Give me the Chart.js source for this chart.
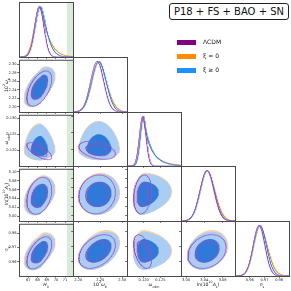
<!DOCTYPE html>
<html><head><meta charset="utf-8">
<script src="https://cdn.jsdelivr.net/npm/chart.js@4.4.1/dist/chart.umd.min.js"></script>
<style>
html,body{margin:0;padding:0;}
body{width:291px;height:291px;background:#fff;position:relative;overflow:hidden;font-family:'DejaVu Sans',sans-serif;}
canvas{position:absolute;}
.lbl{position:absolute;font-size:4.6px;white-space:nowrap;color:#111;line-height:1;}
.lbl sub,.lbl sup{font-size:70%;line-height:0;}
.leg{position:absolute;font-size:6px;white-space:nowrap;color:#111;line-height:1;}
.patch{position:absolute;width:19px;height:5.5px;}
#title{position:absolute;left:169px;top:3px;width:118px;height:15px;border:0.8px solid #222;border-radius:3px;font-size:10px;line-height:15px;text-align:center;color:#111;}
</style></head><body>
<div id="title">P18 + FS + BAO + SN</div>
<script>
// ---- axes ----
const paramLabelsHtml = ['<i>H</i><sub>0</sub>', '10<sup>2</sup><i>ω</i><sub>b</sub>', '<i>ω</i><sub>cdm</sub>', 'ln(10<sup>10</sup><i>A</i><sub>s</sub>)', '<i>n</i><sub>s</sub>'];
const paramRanges = [[66.0, 71.85], [2.188, 2.311], [0.1150, 0.1312], [2.989, 3.107], [0.9500, 0.9867]];
const xTickValues = [[67, 68, 69, 70, 71], [2.20, 2.25, 2.30], [0.120, 0.125], [3.00, 3.04, 3.08], [0.96, 0.97, 0.98]];
const yTickValues = [[], [2.20, 2.22, 2.24, 2.26, 2.28, 2.30], [0.120, 0.125, 0.130], [3.00, 3.02, 3.04, 3.06, 3.08, 3.10], [0.96, 0.97, 0.98]];
const tickDecimals = [0, 2, 3, 2, 2];
const h0Band = [71.19, 74.5];

// ---- models ----
const modelNames = ['ΛCDM', 'ξ = 0', 'ξ ≥ 0'];
const legendColors = ['#800080', '#ff8c00', '#1e90ff'];

// posterior summaries (params: H0, 100wb, wcdm, lnAs, ns)
const lcdmMode   = [68.20, 2.243, 0.1197, 3.046, 0.9663];
const lcdmSd1dLo = [0.50, 0.0150, 0.0010, 0.0150, 0.0040];
const lcdmSd1dHi = [0.50, 0.0150, 0.0010, 0.0150, 0.0040];
const lcdmTail1d = [1.0, 1.0, 1.0, 1.0, 1.0];
const lcdmSd2dLo = [0.55, 0.0170, 0.0011, 0.0170, 0.0046];
const lcdmSd2dHi = [0.55, 0.0170, 0.0011, 0.0170, 0.0046];
const lcdmTail2d = [1.0, 1.0, 1.0, 1.0, 1.0];

const xi0Mode   = [68.25, 2.246, 0.1199, 3.046, 0.9670];
const xi0Sd1dLo = [0.58, 0.0160, 0.00095, 0.0155, 0.0043];
const xi0Sd1dHi = [0.58, 0.0175, 0.0010, 0.0165, 0.0048];
const xi0Tail1d = [1.6, 1.1, 2.3, 1.05, 1.1];
const xi0Sd2dLo = [0.72, 0.0190, 0.0013, 0.0180, 0.0052];
const xi0Sd2dHi = [0.47, 0.0190, 0.0027, 0.0180, 0.0052];
const xi0Tail2d = [1.45, 1.07, 1.30, 1.06, 1.08];

const xiPosMode   = [68.35, 2.247, 0.1200, 3.046, 0.9668];
const xiPosSd1dLo = [0.58, 0.0160, 0.00095, 0.0155, 0.0043];
const xiPosSd1dHi = [0.55, 0.0165, 0.0010, 0.0155, 0.0045];
const xiPosTail1d = [1.35, 1.0, 2.2, 1.0, 1.0];
const xiPosSd2dLo = [0.72, 0.0190, 0.0013, 0.0180, 0.0052];
const xiPosSd2dHi = [0.46, 0.0190, 0.0027, 0.0180, 0.0052];
const xiPosTail2d = [1.35, 1.0, 1.25, 1.0, 1.0];

// correlations, pairs (0,1),(0,2),(0,3),(0,4),(1,2),(1,3),(1,4),(2,3),(2,4),(3,4)
const lcdmCorr  = [0.55, -0.70, 0.30, 0.55, -0.40, 0.10, 0.40, 0.20, -0.45, 0.25];
const xi0Corr   = [0.55, 0.00, 0.35, 0.50, 0.00, 0.10, 0.40, 0.15, 0.00, 0.25];
const xiPosCorr = [0.55, 0.00, 0.35, 0.50, 0.00, 0.10, 0.40, 0.15, 0.00, 0.25];

const contourLevels = [2.448, 1.515]; // 95%, 68%

const models = [
  {mode: xi0Mode, lo: xi0Sd1dLo, hi: xi0Sd1dHi, tail: xi0Tail1d, lo2: xi0Sd2dLo, hi2: xi0Sd2dHi, tail2: xi0Tail2d, corr: xi0Corr, fills: ['#fcd0a4', '#f7a75a'], line: '#ff8c00'},
  {mode: xiPosMode, lo: xiPosSd1dLo, hi: xiPosSd1dHi, tail: xiPosTail1d, lo2: xiPosSd2dLo, hi2: xiPosSd2dHi, tail2: xiPosTail2d, corr: xiPosCorr, fills: ['#a9cdf3', '#2f7ad8'], line: '#1e90ff'},
  {mode: lcdmMode, lo: lcdmSd1dLo, hi: lcdmSd1dHi, tail: lcdmTail1d, lo2: lcdmSd2dLo, hi2: lcdmSd2dHi, tail2: lcdmTail2d, corr: lcdmCorr, fills: null, line: '#a04ec6'}
];

const N = 5;
const colX = i => Math.round(19 + i * 54);
const rowY = i => Math.round(2 + i * 54.8);
function pairIndex(i, j) { let k = 0; for (let a = 0; a < N; a++) for (let b = a + 1; b < N; b++) { if (a === i && b === j) return k; k++; } return -1; }

function curve1D(m, p) {
  const [a, b] = paramRanges[p]; const pts = [];
  for (let k = 0; k <= 160; k++) {
    const x = a + (b - a) * k / 160;
    const d = x - m.mode[p];
    const z = d > 0 ? Math.pow(d / m.hi[p], 2 / m.tail[p]) : (d / m.lo[p]) ** 2;
    pts.push({x, y: Math.exp(-0.5 * z)});
  }
  return pts;
}
function warp(m, p, z) { return m.mode[p] + (z > 0 ? m.hi2[p] * Math.pow(z, m.tail2[p]) : m.lo2[p] * z); }
function contour2D(m, px, py, r) {
  const rho = m.corr[pairIndex(Math.min(px, py), Math.max(px, py))];
  const pts = [];
  for (let k = 0; k <= 160; k++) {
    const t = 2 * Math.PI * k / 160;
    const u = r * Math.cos(t), v = r * Math.sin(t);
    const z1 = u, z2 = rho * u + Math.sqrt(1 - rho * rho) * v;
    pts.push({x: warp(m, px, z1), y: warp(m, py, z2)});
  }
  return pts;
}

const framePlugin = {id: 'frame', afterDatasetsDraw(chart) {
  const {ctx, chartArea: a} = chart; ctx.save(); ctx.strokeStyle = '#4a4a4a'; ctx.lineWidth = 1;
  ctx.strokeRect(a.left + 0.5, a.top + 0.5, a.right - a.left, a.bottom - a.top); ctx.restore();
}};

function makePanel(r, c) {
  const w = colX(c + 1) - colX(c), h = rowY(r + 1) - rowY(r);
  const diag = r === c;
  const lm = diag ? 0 : (c === 0 ? 19 : 3);
  const bm = r === N - 1 ? 15 : 3;
  const W = lm + w + 1, H = h + bm;
  const cv = document.createElement('canvas');
  cv.width = W; cv.height = H;
  cv.style.left = (colX(c) - lm) + 'px'; cv.style.top = rowY(r) + 'px';
  cv.style.width = W + 'px'; cv.style.height = H + 'px';
  document.body.appendChild(cv);

  const yr = diag ? [0, 1.09] : paramRanges[r];
  const datasets = [];
  const add = (d) => { d.order = -datasets.length; d.pointRadius = 0; d.showLine = true; d.tension = 0; datasets.push(d); };
  if (c === 0) {
    add({data: [{x: h0Band[0], y: yr[0]}, {x: h0Band[1], y: yr[0]}, {x: h0Band[1], y: yr[1]}, {x: h0Band[0], y: yr[1]}, {x: h0Band[0], y: yr[0]}],
         fill: 'shape', backgroundColor: 'rgba(70,150,70,0.2)', borderWidth: 0});
  }
  if (diag) {
    models.forEach(m => add({data: curve1D(m, c), fill: false, borderColor: m.line, borderWidth: 0.9}));
  } else {
    models.forEach(m => {
      contourLevels.forEach((lev, li) => {
        const pts = contour2D(m, c, r, lev);
        if (m.fills) add({data: pts, fill: 'shape', backgroundColor: m.fills[li], borderWidth: 0});
        else add({data: pts, fill: false, borderColor: m.line, borderWidth: 0.8});
      });
    });
  }
  const tickFont = {size: 3.6, family: 'DejaVu Sans'};
  const grid = {display: true, drawOnChartArea: false, drawTicks: true, tickLength: 1.8, color: '#444', lineWidth: 0.8};
  new Chart(cv, {
    type: 'scatter',
    data: {datasets},
    options: {
      responsive: false, animation: false, devicePixelRatio: 1,
      layout: {padding: {left: 0, right: 1, top: 0, bottom: 0}, autoPadding: false},
      plugins: {legend: {display: false}, tooltip: {enabled: false}},
      scales: {
        x: {type: 'linear', position: 'bottom', min: paramRanges[c][0], max: paramRanges[c][1],
            afterFit: a => { a.height = bm; },
            afterBuildTicks: a => { a.ticks = xTickValues[c].map(v => ({value: v})); },
            ticks: {display: r === N - 1, font: tickFont, color: '#222', padding: 0, maxRotation: 0, minRotation: 0, autoSkip: false,
                    callback: v => Number(v).toFixed(tickDecimals[c])},
            grid, border: {display: false}},
        y: {type: 'linear', position: 'left', display: !diag, min: yr[0], max: yr[1],
            afterFit: a => { a.width = lm; },
            afterBuildTicks: a => { a.ticks = (diag ? [] : yTickValues[r]).map(v => ({value: v})); },
            ticks: {display: c === 0, font: tickFont, color: '#222', padding: 0.6, autoSkip: false,
                    callback: v => Number(v).toFixed(tickDecimals[r])},
            grid, border: {display: false}}
      }
    },
    plugins: [framePlugin]
  });
}

for (let r = 0; r < N; r++) for (let c = 0; c <= r; c++) makePanel(r, c);

// axis titles
for (let i = 0; i < N; i++) {
  const d = document.createElement('div'); d.className = 'lbl'; d.innerHTML = paramLabelsHtml[i];
  d.style.left = ((colX(i) + colX(i + 1)) / 2) + 'px'; d.style.top = '285px';
  d.style.transform = 'translate(-50%,-50%)'; document.body.appendChild(d);
  if (i > 0) {
    const e = document.createElement('div'); e.className = 'lbl'; e.innerHTML = paramLabelsHtml[i];
    e.style.left = '6.5px'; e.style.top = ((rowY(i) + rowY(i + 1)) / 2) + 'px';
    e.style.transform = 'translate(-50%,-50%) rotate(-90deg)'; document.body.appendChild(e);
  }
}
// legend
modelNames.forEach((name, k) => {
  const yc = 42.7 + k * 13.8;
  const p = document.createElement('div'); p.className = 'patch'; p.style.background = legendColors[k];
  p.style.left = '177px'; p.style.top = (yc - 2.75) + 'px'; document.body.appendChild(p);
  const t = document.createElement('div'); t.className = 'leg'; t.textContent = name;
  t.style.left = '203px'; t.style.top = (yc - 3.3) + 'px'; document.body.appendChild(t);
});
</script>
</body></html>
